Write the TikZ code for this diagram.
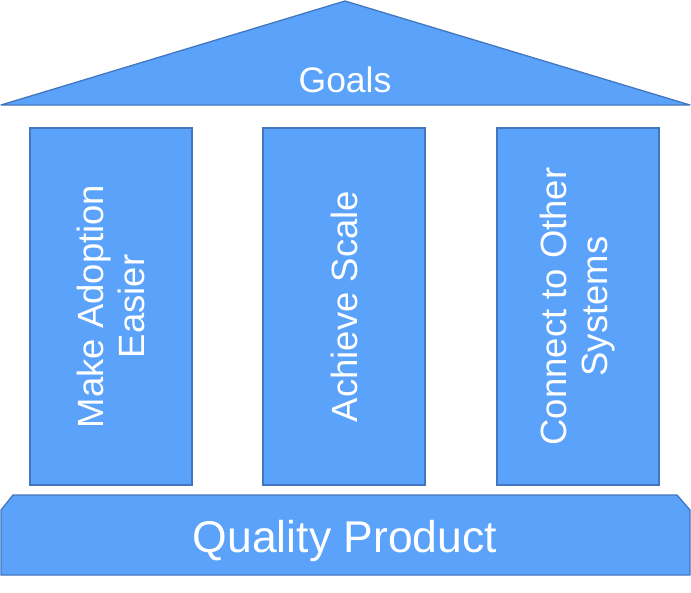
\documentclass[tikz,border=0pt]{standalone}
\usepackage{fontspec}
\setmainfont{Liberation Sans}
\usepackage{tikz}
\usetikzlibrary{positioning}

\definecolor{SlideBlue}{HTML}{5AA2FA}
\definecolor{EdgeBlue}{HTML}{4277BF}

\begin{document}
\begin{tikzpicture}[x=1pt, y=-1pt,
part/.style={draw=EdgeBlue, fill=SlideBlue, line width=1.3pt},
%
pillar/.style={part, rectangle, rotate=90, minimum width=357pt,
minimum height=162pt, inner sep=0pt, align=center, text=white,
font=\fontsize{36.5}{41}\selectfont},
%
label/.style ={text=white, inner sep=0pt}]

\useasboundingbox (0,0) rectangle (691,592);

%%%%%%%%%%%%%%%%%%%%%%%%%%%%%%
% roof
\draw [part, line join=round] (1,105) -- (345,1) -- (690,105) -- cycle;
\node [label, font=\fontsize{35.5}{40}\selectfont] (Goals) at (345,80) {Goals};

%%%%%%%%%%%%%%%%%%%%%%%%%%%%%%
% pillars
\node [pillar] (Adoption) at (111,306.5) {Make Adoption\\Easier};
\node [pillar] (Scale) at (344,306.5) {Achieve Scale};
\node [pillar] (Connect) at (578,306.5) {Connect to Other\\Systems};

%%%%%%%%%%%%%%%%%%%%%%%%%%%%%%
% base
\draw [part] (13,495) -- (677,495) -- (690,510) -- (690,575)
  -- (1,575) -- (1,510) -- cycle;
\node [label, font=\fontsize{44.5}{48}\selectfont] (Quality) at (345,541) {Quality Product};

\end{tikzpicture}
\end{document}
